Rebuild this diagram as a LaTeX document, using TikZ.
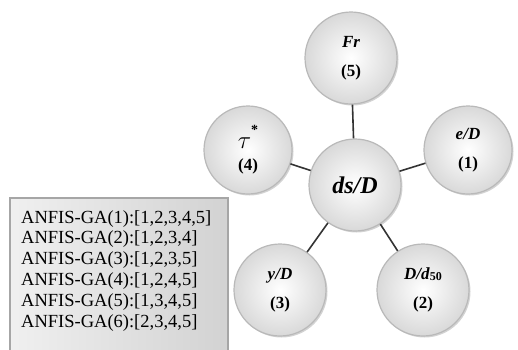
\documentclass[tikz,border=0pt]{standalone}
\usepackage{fontspec}
\setmainfont{Liberation Serif}
\usetikzlibrary{shadows}
\begin{document}
\begin{tikzpicture}[x=1pt,y=-1pt,
  bubble/.style={circle, minimum size=#1, inner sep=0pt, align=center,
    draw=gray!55, line width=1.2pt,
    inner color=white, outer color=gray!30,
    font=\fontsize{17}{20}\selectfont\bfseries,
    drop shadow={shadow xshift=1.5pt, shadow yshift=-1.5pt, opacity=0.35, fill=gray}},
  bubble/.default=92pt,
  link/.style={draw=black!80, line width=1.6pt},
  listtext/.style={font=\fontsize{18.5}{20.8}\selectfont, align=left, anchor=north west, inner sep=0pt}
]
\useasboundingbox (0,0) rectangle (518,349);

% list of model variants
\begin{scope}
  \clip (0,0) rectangle (518,349);
  \draw[draw=gray!70, line width=1.5pt, left color=gray!12, right color=gray!35]
    (10,198) rectangle (228,356);
\end{scope}
\node[listtext] (list) at (21,210) {ANFIS-GA(1):[1,2,3,4,5]\\ANFIS-GA(2):[1,2,3,4]\\ANFIS-GA(3):[1,2,3,5]\\ANFIS-GA(4):[1,2,4,5]\\ANFIS-GA(5):[1,3,4,5]\\ANFIS-GA(6):[2,3,4,5]};

% parameter bubbles
\node[bubble] (c) at (355,185) {\fontsize{24}{26}\selectfont\itshape ds/D};
\node[bubble] (fr) at (351,58) {\itshape Fr\\[9pt](5)};
\node[bubble=88pt] (ed) at (468,150) {\itshape e/D\\[9pt](1)};
\node[bubble=88pt] (tau) at (248,150) {\fontsize{26}{22}\selectfont\raisebox{-2pt}{$\tau$}\raisebox{12pt}{\fontsize{14}{14}\selectfont\bfseries *}\\[4pt](4)};
\node[bubble] (yd) at (280,290) {\itshape y/D\\[9pt](3)};
\node[bubble] (dd) at (423,290) {\textit{D/d}\raisebox{-1pt}{\fontsize{12}{12}\selectfont 50}\\[9pt](2)};

% connectors
\draw[link] (c) -- (fr);
\draw[link] (c) -- (ed);
\draw[link] (c) -- (tau);
\draw[link] (c) -- (yd);
\draw[link] (c) -- (dd);
\end{tikzpicture}
\end{document}
